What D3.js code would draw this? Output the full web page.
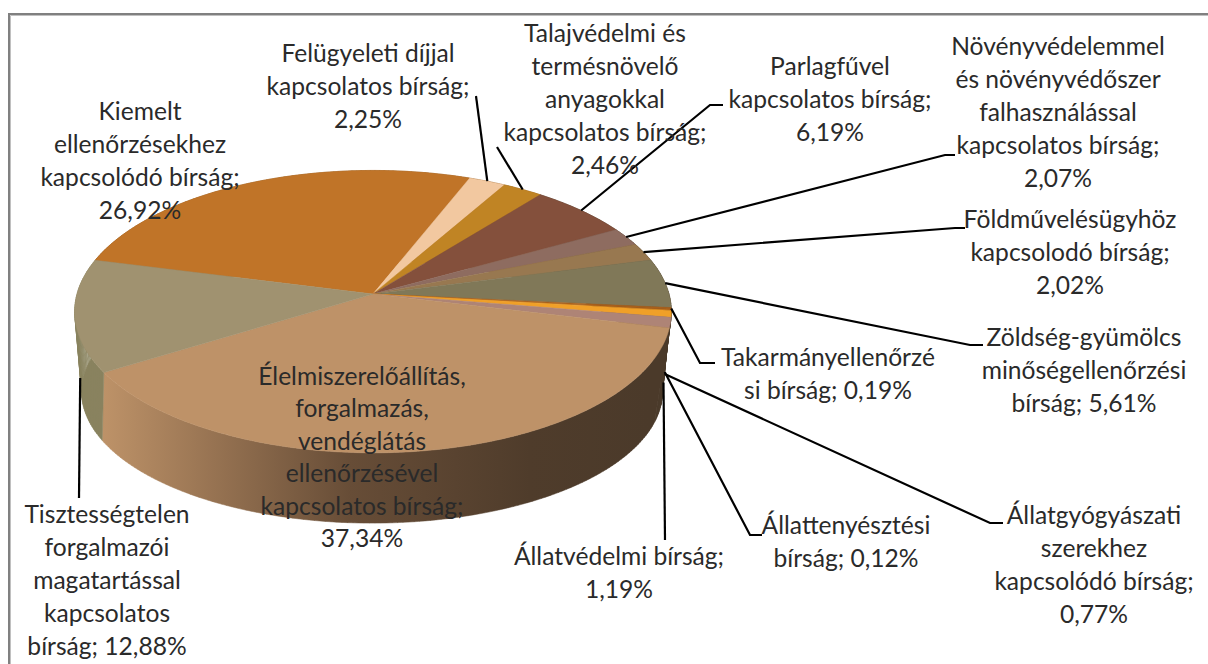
<!DOCTYPE html>
<html lang="hu">
<head>
<meta charset="utf-8">
<title>Bírságok megoszlása</title>
<script src="https://cdn.jsdelivr.net/npm/d3@7"></script>
<style>
html,body{margin:0;padding:0;background:#fff}
svg{display:block}
text{font-family:Lato,"Open Sans",sans-serif;font-size:24.6px;fill:#2a2a2a;text-anchor:middle}
</style>
</head>
<body>
<svg id="chart" width="1208" height="664"></svg>
<script>
// ---- data ----
const categories = [
  "Kiemelt ellenőrzésekhez kapcsolódó bírság",
  "Felügyeleti díjjal kapcsolatos bírság",
  "Talajvédelmi és termésnövelő anyagokkal kapcsolatos bírság",
  "Parlagfűvel kapcsolatos bírság",
  "Növényvédelemmel és növényvédőszer falhasználással kapcsolatos bírság",
  "Földművelésügyhöz kapcsolodó bírság",
  "Zöldség-gyümölcs minőségellenőrzési bírság",
  "Takarmányellenőrzési bírság",
  "Állattenyésztési bírság",
  "Állatgyógyászati szerekhez kapcsolódó bírság",
  "Állatvédelmi bírság",
  "Élelmiszerelőállítás, forgalmazás, vendéglátás ellenőrzésével kapcsolatos bírság",
  "Tisztességtelen forgalmazói magatartással kapcsolatos bírság"
];
const values = [26.92, 2.25, 2.46, 6.19, 2.07, 2.02, 5.61, 0.19, 0.12, 0.77, 1.19, 37.34, 12.88];
const labelLines = [
  ["Kiemelt", "ellenőrzésekhez", "kapcsolódó bírság;", "{v}"],
  ["Felügyeleti díjjal", "kapcsolatos bírság;", "{v}"],
  ["Talajvédelmi és", "termésnövelő", "anyagokkal", "kapcsolatos bírság;", "{v}"],
  ["Parlagfűvel", "kapcsolatos bírság;", "{v}"],
  ["Növényvédelemmel", "és növényvédőszer", "falhasználással", "kapcsolatos bírság;", "{v}"],
  ["Földművelésügyhöz", "kapcsolodó bírság;", "{v}"],
  ["Zöldség-gyümölcs", "minőségellenőrzési", "bírság; {v}"],
  ["Takarmányellenőrzé", "si bírság; {v}"],
  ["Állattenyésztési", "bírság; {v}"],
  ["Állatgyógyászati", "szerekhez", "kapcsolódó bírság;", "{v}"],
  ["Állatvédelmi bírság;", "{v}"],
  ["Élelmiszerelőállítás,", "forgalmazás,", "vendéglátás", "ellenőrzésével", "kapcsolatos bírság;", "{v}"],
  ["Tisztességtelen", "forgalmazói", "magatartással", "kapcsolatos", "bírság; {v}"]
];
const topColors = ["#c07428","#f2c8a0","#c08424","#84503c","#8e6c60","#987850","#807858","#a8601c","#a8601c","#f0a028","#ae8476","#be9268","#a09270"];
const wallColors = ["#8c5a24","#8c5a24","#8c5a24","#4b3a2a","#4b3a2a","#4b3a2a","#4b3a2a","#4b3a2a","#4b3a2a","#4b3a2a","#4b3a2a","url(#frontWall)","#89825f"];

// ---- layout (not data) ----
const W = 1208, H = 664;
const startDeg = 284.5;
const top3d = {cx:373, cy:294, A:296, B:139, k:0.125};
const bot3d = {cx:372, cy:379, A:289, B:130, k:0.098};
const bottomTwistDeg = 5;
const labelCenters = [[140,120],[368,62],[605,42],[830,75],[1058,55],[1070,228],[1084,346],[828,366],[846,534],[1094,524],[619,565],[362,385],[107,523]];
const lineStep = [33,33,33,33,33,33,33,33,33,33,33,32.4,33];
// leader: depth fraction of start anchor on the wall, then waypoints toward the label (null = no leader)
const leaders = [
  null,
  {d:0,pts:[[476,96]]},
  {d:0,pts:[[497,147]]},
  {d:0,pts:[[710,105],[723,105]]},
  {d:0,pts:[[945,155],[955,155]]},
  {d:0,pts:[[955,228],[965,228]]},
  {d:0,pts:[[970,345],[983,345]]},
  {d:0,pts:[[700,363],[715,363]]},
  {d:0.74,pts:[[750,535],[762,535]]},
  {d:0.72,pts:[[990,523],[1003,523]]},
  {d:0.72,pts:[[665,540]]},
  null,
  {d:0.75,pts:[[79,498]]}
];

const svg = d3.select("#chart");
const defs = svg.append("defs");
const grad = defs.append("linearGradient").attr("id","frontWall")
  .attr("gradientUnits","userSpaceOnUse").attr("x1",104).attr("x2",650).attr("y1",0).attr("y2",0);
[[0,"#bd9268"],[0.2,"#977352"],[0.45,"#674d37"],[0.78,"#4f3c2b"],[1,"#4b3a2a"]]
  .forEach(s=>grad.append("stop").attr("offset",s[0]).attr("stop-color",s[1]));

// projection of the pie's unit circle (theta clockwise from the back) with perspective
function project(p, theta){
  const X = Math.sin(theta), Y = -Math.cos(theta), w = 1 - p.k*Y;
  return [p.cx + p.A*X/w, p.cy + p.B*Y/w];
}
function arcAngles(a0,a1){
  const n = Math.max(2, Math.ceil((a1-a0)/(Math.PI/180)));
  return d3.range(n+1).map(i=>a0+(a1-a0)*i/n);
}
const lineGen = d3.line().curve(d3.curveLinear);
const twist = bottomTwistDeg*Math.PI/180;

const pie = d3.pie().sort(null)
  .startAngle(startDeg*Math.PI/180).endAngle((startDeg+360)*Math.PI/180);
const arcs = pie(values);

// frame
svg.append("path").attr("d","M1208,14H9V664").attr("fill","none").attr("stroke","#808080").attr("stroke-width",2);
svg.append("path").attr("d","M1208,15.5H10.5V664").attr("fill","none").attr("stroke","#c0c0c0").attr("stroke-width",1);

// walls: one small quad per step so the silhouette follows the tangent between the two rims
svg.append("g").selectAll("path").data(arcs).join("path")
  .attr("d",d=>{
    const as = arcAngles(d.startAngle,d.endAngle);
    return d3.range(as.length-1).map(i=>lineGen([
      project(top3d,as[i]), project(top3d,as[i+1]),
      project(bot3d,as[i+1]+twist), project(bot3d,as[i]+twist)
    ])+"Z").join("");
  })
  .attr("fill",(d,i)=>wallColors[i]).attr("stroke",(d,i)=>wallColors[i]).attr("stroke-width",0.5);

// top surface
svg.append("g").selectAll("path").data(arcs).join("path")
  .attr("d",(d)=>{
    const pts = [[top3d.cx,top3d.cy]].concat(arcAngles(d.startAngle,d.endAngle).map(a=>project(top3d,a)));
    return lineGen(pts)+"Z";
  })
  .attr("fill",(d,i)=>topColors[i]).attr("stroke",(d,i)=>topColors[i]).attr("stroke-width",0.5);

// leaders
svg.append("g").selectAll("path").data(arcs.map((d,i)=>({d,i})).filter(o=>leaders[o.i])).join("path")
  .attr("d",o=>{
    const mid=(o.d.startAngle+o.d.endAngle)/2, l=leaders[o.i];
    const a=project(top3d,mid), b=project(bot3d,mid);
    const s=[a[0]+(b[0]-a[0])*l.d, a[1]+(b[1]-a[1])*l.d];
    return lineGen([s].concat(l.pts));
  })
  .attr("fill","none").attr("stroke","#000").attr("stroke-width",2.2);

// labels
const fmt = v=>d3.format(".2f")(v).replace(".",",")+"%";
const lab = svg.append("g").selectAll("text").data(values).join("text")
  .attr("transform",(d,i)=>`translate(${labelCenters[i][0]},${labelCenters[i][1]})`);
lab.each(function(v,i){
  d3.select(this).selectAll("tspan").data(labelLines[i]).join("tspan")
    .attr("x",0).attr("y",(s,j)=>j*lineStep[i])
    .text(s=>s.replace("{v}",fmt(v)));
});
</script>
</body>
</html>
